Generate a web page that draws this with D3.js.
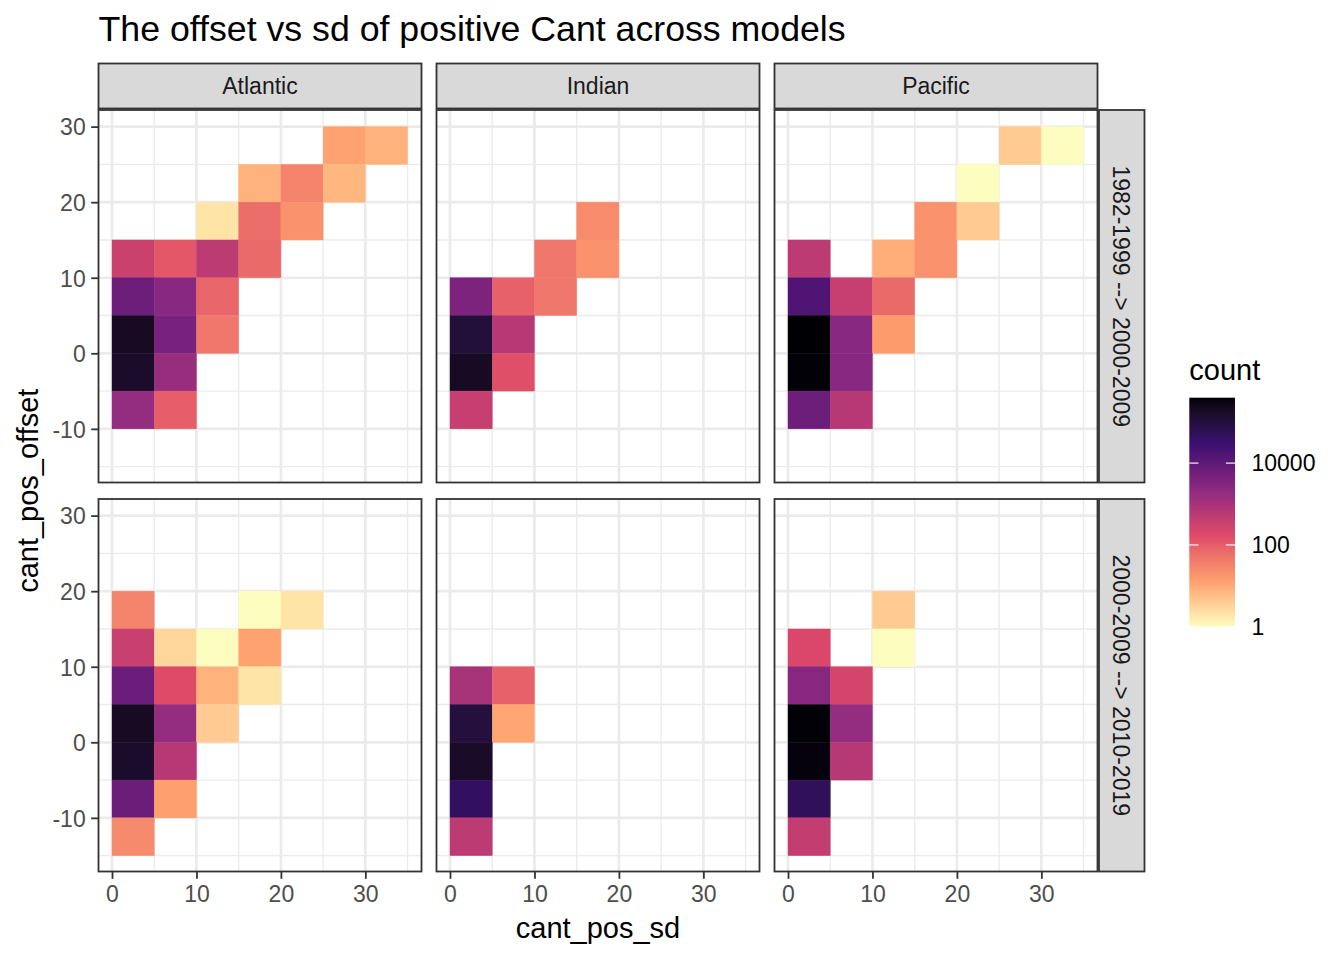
<!DOCTYPE html>
<html><head><meta charset="utf-8">
<script src="https://cdn.jsdelivr.net/npm/d3@7"></script>
<style>body{margin:0;background:#fff} svg{display:block} text{font-family:"Liberation Sans",Arial,Helvetica,sans-serif}</style>
</head><body><svg id="c" width="1344" height="960"></svg>
<script>
// ---------------- data ----------------
const oceans = ["Atlantic", "Indian", "Pacific"];
const periods = ["1982-1999 --> 2000-2009", "2000-2009 --> 2010-2019"];
const xTicks = [0, 10, 20, 30];
const xMinor = [5, 15, 25, 35];
const yTicks = [-10, 0, 10, 20, 30];
const yMinor = [-15, -5, 5, 15, 25];
const legendBreaks = [1, 100, 10000];
const binWidth = 5;
// each cell: [cant_pos_sd bin start, cant_pos_offset bin start, count]
const atlantic1 = [[25,25,12],[30,25,8],[15,20,8],[20,20,32],[25,20,7],[10,15,2],[15,15,63],[20,15,20],
  [0,10,320],[5,10,120],[10,10,500],[15,10,70],[0,5,6300],[5,5,2600],[10,5,80],
  [0,0,200000],[5,0,4400],[10,0,48],[0,-5,160000],[5,-5,1600],[0,-10,1800],[5,-10,100]];
const indian1 = [[15,15,25],[10,10,48],[15,10,20],[0,5,3800],[5,5,90],[10,5,48],
  [0,0,110000],[5,0,630],[0,-5,200000],[5,-5,150],[0,-10,380]];
const pacific1 = [[25,25,4],[30,25,1],[20,20,1],[15,15,20],[20,15,4],[0,10,500],[10,10,9],[15,10,20],
  [0,5,16000],[5,5,370],[10,5,70],[0,0,398000],[5,0,2600],[10,0,15],[0,-5,380000],[5,-5,2600],
  [0,-10,6300],[5,-10,630]];
const atlantic2 = [[0,15,32],[15,15,1],[20,15,2],[0,10,350],[5,10,3],[10,10,1],[15,10,12],
  [0,5,7000],[5,5,170],[10,5,8],[15,5,2],[0,0,200000],[5,0,1800],[10,0,4],
  [0,-5,160000],[5,-5,630],[0,-10,6800],[5,-10,13],[0,-15,26]];
const indian2 = [[0,5,1000],[5,5,90],[0,0,100000],[5,0,11],[0,-5,170000],[0,-10,45000],[0,-15,500]];
const pacific2 = [[10,15,4],[0,10,200],[10,10,1],[0,5,2700],[5,5,230],[0,0,380000],[5,0,1800],
  [0,-5,350000],[5,-5,630],[0,-10,50000],[0,-15,420]];
const magmaColors = ["#FCFDBF", "#FE9F6D", "#DE4968", "#8C2981", "#3B0F70", "#000004"];

const panelCells = [[atlantic1, indian1, pacific1], [atlantic2, indian2, pacific2]];

// ---------------- layout ----------------
const svg = d3.select("#c");
const font = '"Liberation Sans",Arial,Helvetica,sans-serif';
const colX = [98.5, 436.5, 774.5];
const rowY = [110, 499];
const pw = 323, ph = 372.5;
const fmt = d => String(d);

svg.append("rect").attr("width", 1344).attr("height", 960).attr("fill", "#fff");

const x = d3.scaleLinear().domain([-1.6, 36.65]).range([0, pw]);
const y = d3.scaleLinear().domain([-17.1, 32.2]).range([ph, 0]);

const allCounts = panelCells.flat().flat().map(d => d[2]);
const ext = d3.extent(allCounts);
const logMax = Math.log10(ext[1]), logMin = Math.log10(ext[0]);
const colorLog = d3.scaleLinear()
  .domain(magmaColors.map((c, i) => logMin + (logMax - logMin) * i / (magmaColors.length - 1)))
  .range(magmaColors)
  .interpolate(d3.interpolateLab);
const color = v => colorLog(Math.log10(v));

// title
svg.append("text").attr("x", 98.5).attr("y", 41).attr("font-size", 35.7).attr("fill", "#000")
  .text("The offset vs sd of positive Cant across models");

// panels
periods.forEach((p, ri) => {
  oceans.forEach((o, ci) => {
    const g = svg.append("g").attr("transform", `translate(${colX[ci]},${rowY[ri]})`);
    g.append("rect").attr("width", pw).attr("height", ph).attr("fill", "#fff");
    // grid minor
    g.selectAll(".vmin").data(xMinor.filter(v => x(v) < pw)).join("line")
      .attr("x1", d => x(d)).attr("x2", d => x(d)).attr("y1", 0).attr("y2", ph)
      .attr("stroke", "#EBEBEB").attr("stroke-width", 1.35);
    g.selectAll(".hmin").data(yMinor.filter(v => y(v) > 0 && y(v) < ph)).join("line")
      .attr("x1", 0).attr("x2", pw).attr("y1", d => y(d)).attr("y2", d => y(d))
      .attr("stroke", "#EBEBEB").attr("stroke-width", 1.35);
    // grid major
    g.selectAll(".vmaj").data(xTicks).join("line")
      .attr("x1", d => x(d)).attr("x2", d => x(d)).attr("y1", 0).attr("y2", ph)
      .attr("stroke", "#EBEBEB").attr("stroke-width", 2.7);
    g.selectAll(".hmaj").data(yTicks).join("line")
      .attr("x1", 0).attr("x2", pw).attr("y1", d => y(d)).attr("y2", d => y(d))
      .attr("stroke", "#EBEBEB").attr("stroke-width", 2.7);
    // tiles
    g.selectAll(".tile").data(panelCells[ri][ci]).join("rect")
      .attr("x", d => x(d[0])).attr("width", d => x(d[0] + binWidth) - x(d[0]))
      .attr("y", d => y(d[1] + binWidth)).attr("height", d => y(d[1]) - y(d[1] + binWidth))
      .attr("fill", d => color(d[2])).attr("stroke", d => color(d[2])).attr("stroke-width", 0.4);
    // border
    g.append("rect").attr("width", pw).attr("height", ph).attr("fill", "none")
      .attr("stroke", "#333333").attr("stroke-width", 1.8);

    // y axis
    if (ci === 0) {
      const ya = d3.axisLeft(y).tickValues(yTicks).tickSize(7.3).tickPadding(5.5).tickFormat(fmt);
      const ag = g.append("g").call(ya);
      ag.select(".domain").remove();
      ag.selectAll(".tick line").attr("stroke", "#333333").attr("stroke-width", 1.8);
      ag.selectAll(".tick text").attr("font-size", 23).attr("fill", "#4D4D4D")
        .attr("font-family", font).attr("dy", "0.36em");
    }
    // x axis
    if (ri === 1) {
      const xa = d3.axisBottom(x).tickValues(xTicks).tickSize(7.3).tickPadding(6).tickFormat(fmt);
      const ag = g.append("g").attr("transform", `translate(0,${ph})`).call(xa);
      ag.select(".domain").remove();
      ag.selectAll(".tick line").attr("stroke", "#333333").attr("stroke-width", 1.8);
      ag.selectAll(".tick text").attr("font-size", 23).attr("fill", "#4D4D4D")
        .attr("font-family", font).attr("dy", "0.75em");
    }
  });
});

// top strips
oceans.forEach((o, ci) => {
  svg.append("rect").attr("x", colX[ci]).attr("y", 63.5).attr("width", pw).attr("height", 45)
    .attr("fill", "#D9D9D9").attr("stroke", "#333333").attr("stroke-width", 1.8);
  svg.append("text").attr("x", colX[ci] + pw / 2).attr("y", 94).attr("text-anchor", "middle")
    .attr("font-size", 23).attr("fill", "#1A1A1A").text(o);
});
// right strips
periods.forEach((p, ri) => {
  svg.append("rect").attr("x", 1099).attr("y", rowY[ri]).attr("width", 45.5).attr("height", ph)
    .attr("fill", "#D9D9D9").attr("stroke", "#333333").attr("stroke-width", 1.8);
  svg.append("text").attr("transform", `translate(${1099 + 45.5 / 2},${rowY[ri] + ph / 2}) rotate(90)`)
    .attr("text-anchor", "middle").attr("dy", "0.36em")
    .attr("font-size", 23).attr("fill", "#1A1A1A").text(p);
});

// axis titles
svg.append("text").attr("x", (colX[0] + colX[2] + pw) / 2).attr("y", 938).attr("text-anchor", "middle")
  .attr("font-size", 29).attr("fill", "#000").text("cant_pos_sd");
svg.append("text").attr("transform", `translate(38,${(rowY[0] + rowY[1] + ph) / 2}) rotate(-90)`)
  .attr("text-anchor", "middle").attr("font-size", 29).attr("fill", "#000").text("cant_pos_offset");

// legend
const lx = 1189.3, ly = 397.7, lw = 45.7, lh = 229;
svg.append("text").attr("x", lx).attr("y", 379.5).attr("font-size", 29).attr("fill", "#000").text("count");
const defs = svg.append("defs");
const grad = defs.append("linearGradient").attr("id", "lg").attr("x1", 0).attr("y1", 1).attr("x2", 0).attr("y2", 0);
d3.range(0, 41).forEach(i => {
  const t = i / 40;
  grad.append("stop").attr("offset", t).attr("stop-color", colorLog(logMin + t * (logMax - logMin)));
});
svg.append("rect").attr("x", lx).attr("y", ly).attr("width", lw).attr("height", lh).attr("fill", "url(#lg)");
const ls = d3.scaleLinear().domain([logMin, logMax]).range([ly + lh, ly]);
legendBreaks.forEach(b => {
  const yy = ls(Math.log10(b));
  svg.append("line").attr("x1", lx).attr("x2", lx + 9.1).attr("y1", yy).attr("y2", yy)
    .attr("stroke", "#fff").attr("stroke-opacity", 0.8).attr("stroke-width", 1.4);
  svg.append("line").attr("x1", lx + lw - 9.1).attr("x2", lx + lw).attr("y1", yy).attr("y2", yy)
    .attr("stroke", "#fff").attr("stroke-opacity", 0.8).attr("stroke-width", 1.4);
  svg.append("text").attr("x", 1251.5).attr("y", yy).attr("dy", "0.36em").attr("font-size", 23)
    .attr("fill", "#000").text(fmt(b));
});
</script></body></html>
